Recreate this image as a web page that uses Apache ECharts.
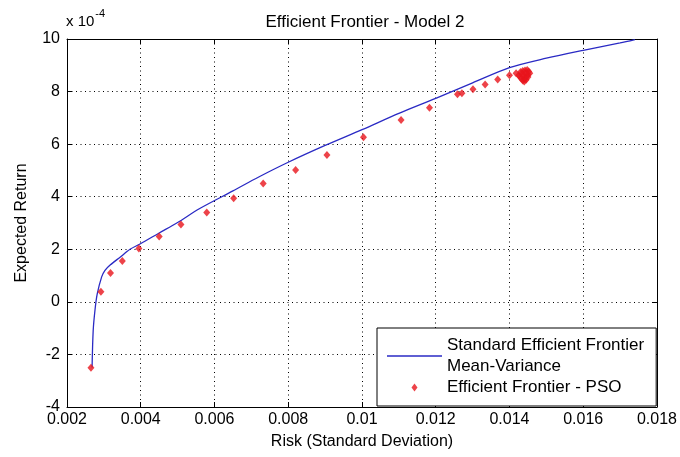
<!DOCTYPE html>
<html>
<head>
<meta charset="utf-8">
<script src="https://cdn.jsdelivr.net/npm/echarts@6/dist/echarts.min.js"></script>
<style>html,body{margin:0;padding:0;background:#fff}#c{width:680px;height:457px}</style>
</head>
<body>
<div id="c"></div>
<script>
// Standard efficient frontier (Mean-Variance): risk and expected return (x 10^-4)
const frontierRisk   = [0.00268, 0.00271, 0.00276, 0.00282, 0.00294, 0.00303, 0.00317, 0.00344, 0.00371, 0.00398, 0.0045, 0.0050, 0.0056, 0.0065, 0.0072, 0.0080, 0.0090, 0.0100, 0.0110, 0.0120, 0.0130, 0.0140, 0.0150, 0.0160, 0.0170, 0.0174];
const frontierReturn = [-2.5, -1.1, -0.3, 0.3, 0.95, 1.2, 1.4, 1.7, 2.0, 2.2, 2.62, 3.02, 3.55, 4.22, 4.75, 5.31, 5.95, 6.55, 7.17, 7.74, 8.33, 8.91, 9.27, 9.57, 9.85, 9.98];
// Efficient frontier found by PSO
const psoRisk   = [0.00265, 0.00292, 0.00318, 0.0035, 0.00395, 0.0045, 0.00509, 0.00579, 0.00652, 0.00732, 0.0082, 0.00905, 0.01004, 0.01106, 0.01183, 0.01259, 0.01271, 0.01301, 0.01334, 0.01368, 0.0140,
  0.01418, 0.01425, 0.01430, 0.01436, 0.01442, 0.01448, 0.01452, 0.01455, 0.01450, 0.01446, 0.01440, 0.01436, 0.01432, 0.01428, 0.01438, 0.01444, 0.01434, 0.01440, 0.01445, 0.01450];
const psoReturn = [-2.51, 0.38, 1.10, 1.55, 2.03, 2.49, 2.94, 3.40, 3.94, 4.50, 5.02, 5.59, 6.26, 6.92, 7.38, 7.90, 7.94, 8.09, 8.27, 8.46, 8.62,
  8.70, 8.62, 8.74, 8.78, 8.80, 8.82, 8.76, 8.70, 8.64, 8.56, 8.48, 8.42, 8.50, 8.56, 8.60, 8.68, 8.66, 8.38, 8.45, 8.55];
const xTicks = {min: 0.002, max: 0.018, interval: 0.002};
const yTicks = {min: -4, max: 10, interval: 2};
const titleText = 'Efficient Frontier - Model 2';
const seriesNames = ['Standard Efficient Frontier\nMean-Variance', 'Efficient Frontier - PSO'];

const frontierData = frontierRisk.map((x, i) => [x, frontierReturn[i]]);
const psoData = psoRisk.map((x, i) => [x, psoReturn[i]]);

const FONT = 'Liberation Sans, Arial, sans-serif';
const BLUE = '#2a2ac4';
const RED = '#e8141c';
const fmtX = v => String(parseFloat(v.toFixed(3)));

const chart = echarts.init(document.getElementById('c'), null, {renderer: 'canvas'});
const axisCommon = {
  axisLine: {show: true, onZero: false, lineStyle: {color: '#000', width: 1}},
  axisTick: {show: true, inside: true, length: 5, lineStyle: {color: '#000'}},
};
const dotted = {color: '#000', type: [1, 3.5], width: 1};
chart.setOption({
  backgroundColor: '#fff',
  animation: false,
  title: {
    text: titleText, left: 360, top: 9, textAlign: 'center',
    textStyle: {fontFamily: FONT, fontSize: 17, fontWeight: 'normal', color: '#000'}
  },
  grid: {left: 67, right: 23, top: 39, bottom: 50, containLabel: false},
  legend: {
    orient: 'vertical', left: 377, top: 328,
    padding: [7, 12, 8, 10], itemGap: 0,
    itemWidth: 55, itemHeight: 8,
    symbolKeepAspect: true,
    backgroundColor: '#fff', borderColor: '#000', borderWidth: 1, borderRadius: 0,
    textStyle: {fontFamily: FONT, fontSize: 17, color: '#000', lineHeight: 21},
    data: [
      {name: seriesNames[0], icon: 'path://M0,0 L55,0 L55,1.4 L0,1.4 Z', itemStyle: {color: BLUE}},
      {name: seriesNames[1], icon: 'path://M3,0 L6,4 L3,8 L0,4 Z', itemStyle: {color: RED}}
    ]
  },
  xAxis: [
    Object.assign({
      type: 'value', min: xTicks.min, max: xTicks.max, interval: xTicks.interval,
      name: 'Risk (Standard Deviation)', nameLocation: 'middle', nameGap: 27,
      nameTextStyle: {fontFamily: FONT, fontSize: 16, color: '#000'},
      axisLabel: {fontFamily: FONT, fontSize: 16, color: '#000', margin: 5, formatter: fmtX},
      splitLine: {show: true, lineStyle: dotted}
    }, axisCommon),
    Object.assign({
      type: 'value', position: 'top', min: xTicks.min, max: xTicks.max, interval: xTicks.interval,
      axisLabel: {show: false}, splitLine: {show: false}
    }, axisCommon)
  ],
  yAxis: [
    Object.assign({
      type: 'value', min: yTicks.min, max: yTicks.max, interval: yTicks.interval,
      name: 'Expected Return', nameLocation: 'middle', nameGap: 37, nameRotate: 90,
      nameTextStyle: {fontFamily: FONT, fontSize: 16, color: '#000'},
      axisLabel: {fontFamily: FONT, fontSize: 16, color: '#000', margin: 7},
      splitLine: {show: true, lineStyle: dotted}
    }, axisCommon),
    Object.assign({
      type: 'value', position: 'right', min: yTicks.min, max: yTicks.max, interval: yTicks.interval,
      axisLabel: {show: false}, splitLine: {show: false}
    }, axisCommon)
  ],
  graphic: [{
    type: 'text', left: 66, top: 8,
    style: {
      text: '{b|x 10}{s|-4}',
      rich: {
        b: {fontFamily: FONT, fontSize: 15, fill: '#000', padding: [9, 0, 0, 0]},
        s: {fontFamily: FONT, fontSize: 11, fill: '#000', padding: [0, 0, 8, 1]}
      }
    }
  }],
  series: [
    {
      name: seriesNames[0], type: 'line', data: frontierData,
      xAxisIndex: 0, yAxisIndex: 0,
      symbol: 'none', smooth: 0.3, lineStyle: {color: BLUE, width: 1.3},
      itemStyle: {color: BLUE}, z: 3
    },
    {
      name: seriesNames[1], type: 'scatter', data: psoData,
      xAxisIndex: 0, yAxisIndex: 0,
      symbol: 'diamond', symbolSize: [7, 8],
      itemStyle: {color: RED}, z: 4
    }
  ]
});
</script>
</body>
</html>
